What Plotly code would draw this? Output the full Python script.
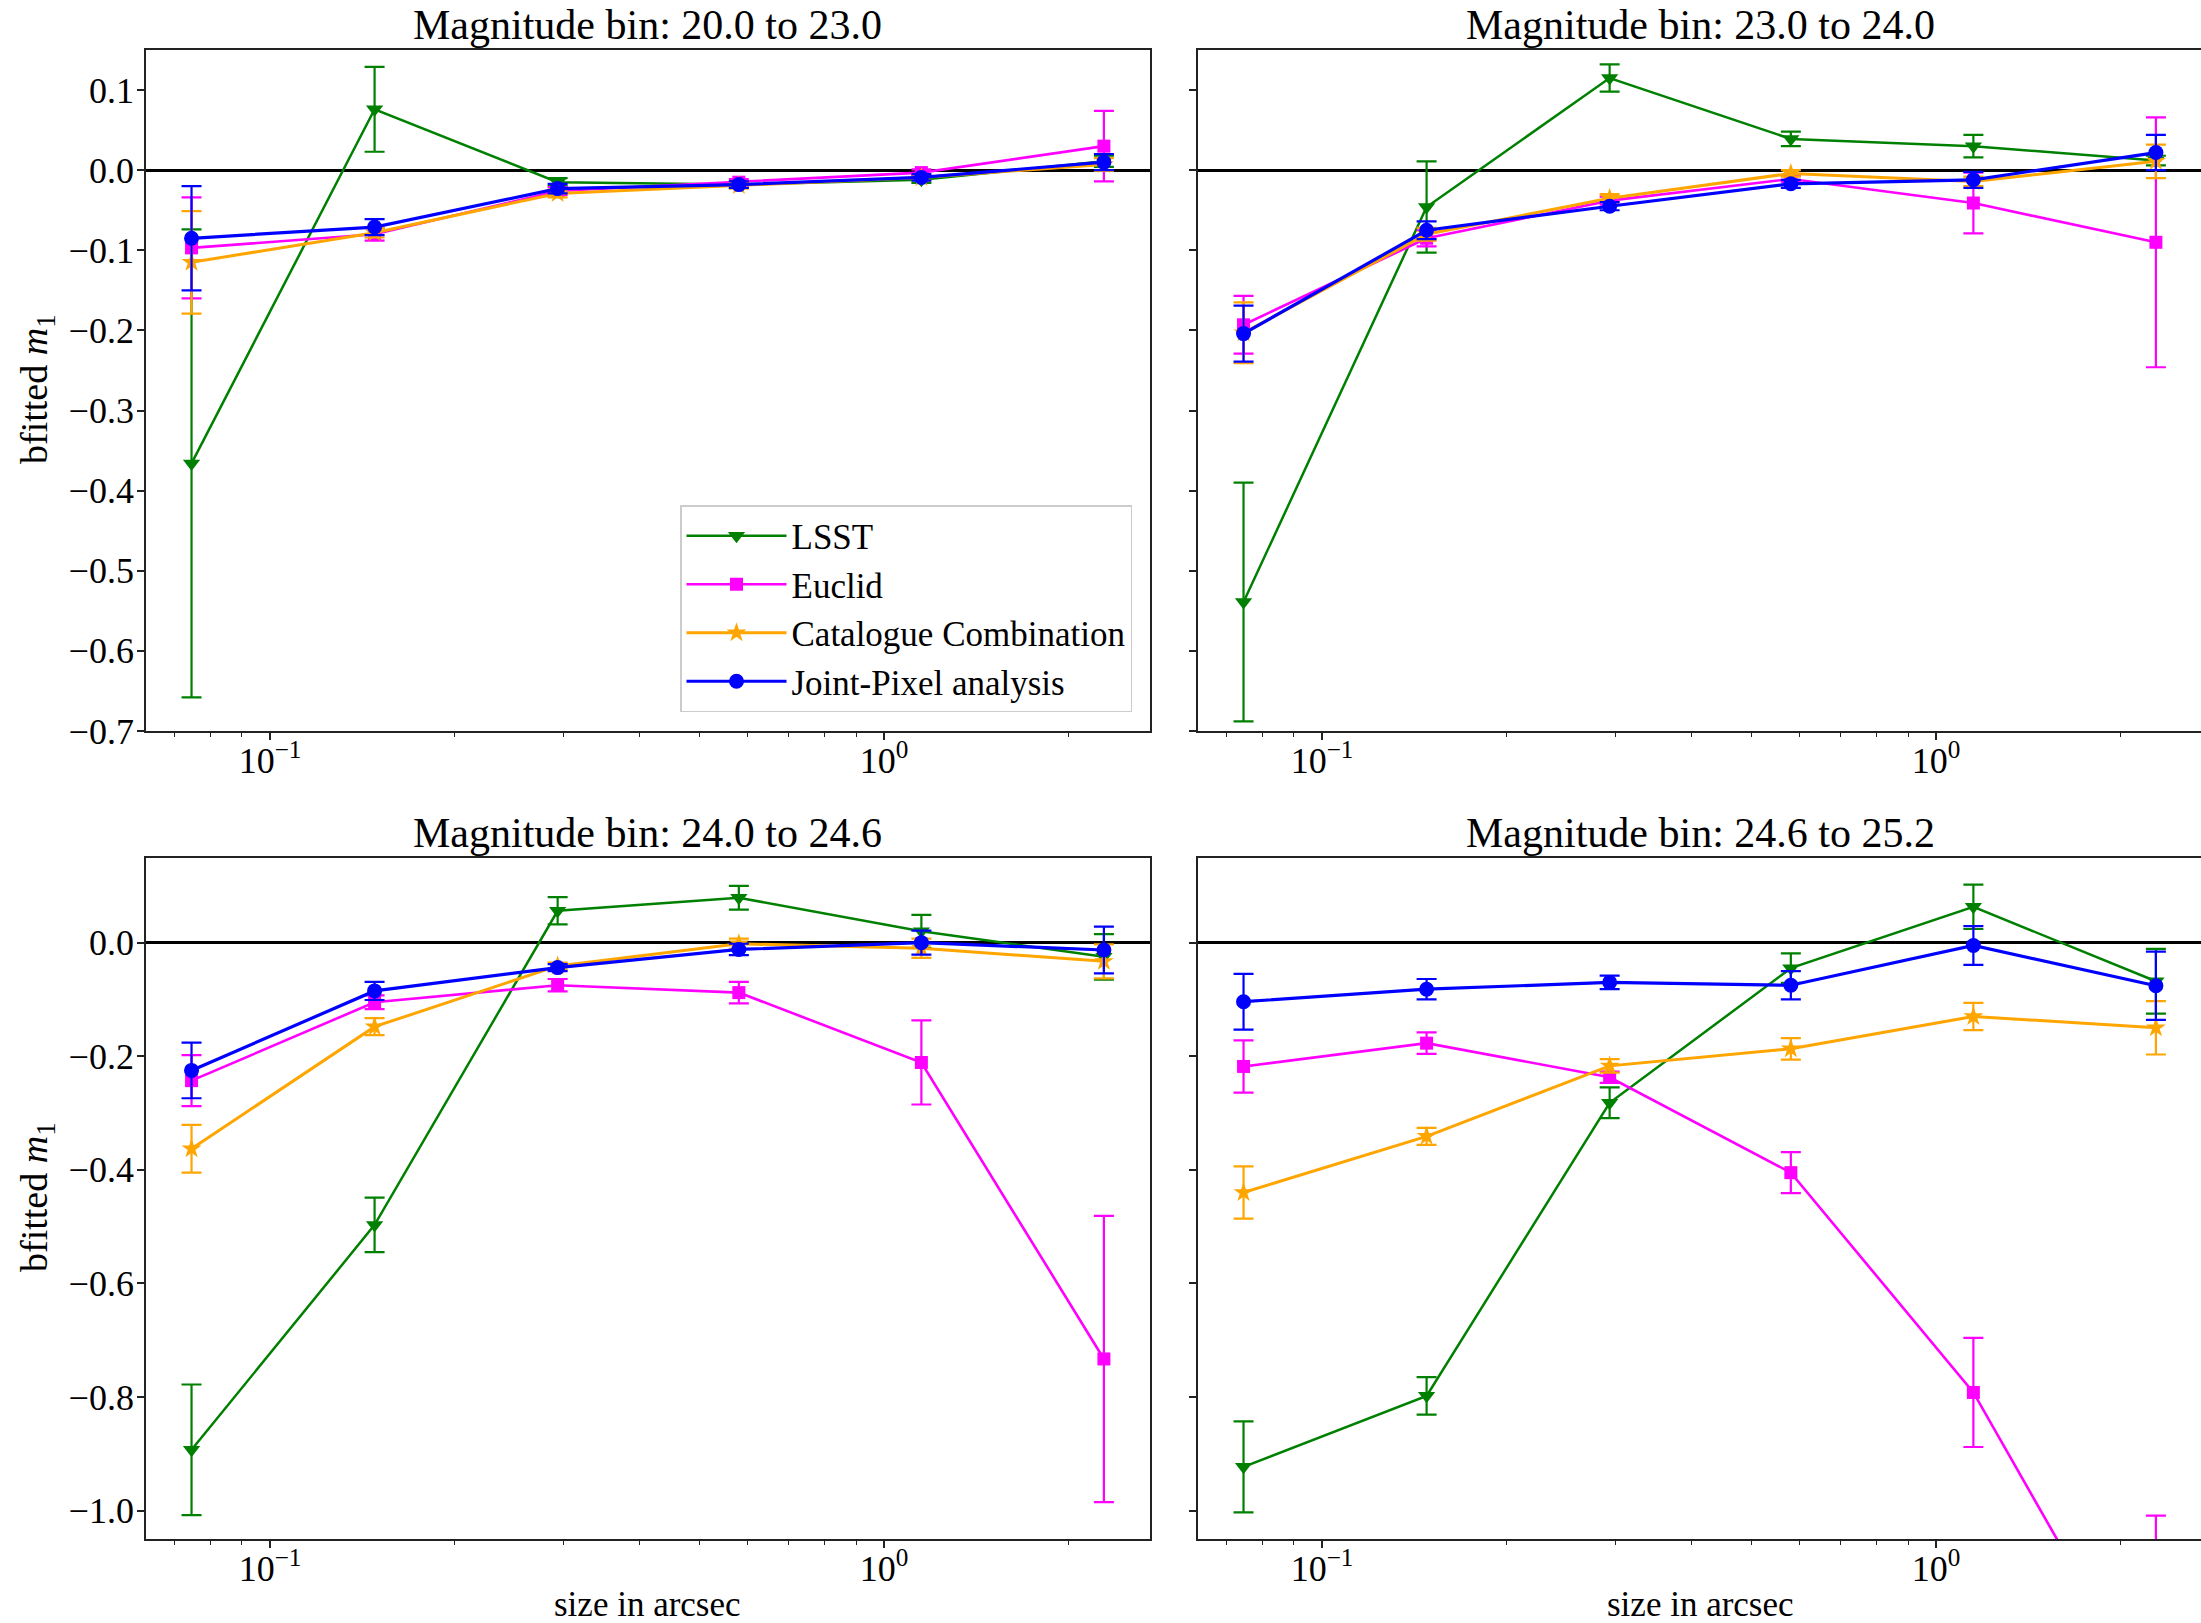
import plotly.graph_objects as go

# ---------------- data ----------------
x_sizes = [0.0745, 0.148, 0.294, 0.58, 1.15, 2.28]

bin_titles = ["Magnitude bin: 20.0 to 23.0", "Magnitude bin: 23.0 to 24.0",
              "Magnitude bin: 24.0 to 24.6", "Magnitude bin: 24.6 to 25.2"]
series_names = ["LSST", "Euclid", "Catalogue Combination", "Joint-Pixel analysis"]

# bin 20.0 - 23.0
lsst_1 = [-0.366, 0.076, -0.015, -0.018, -0.012, 0.011]
lsst_1_err = [0.292, 0.053, 0.005, 0.004, 0.004, 0.007]
euclid_1 = [-0.097, -0.080, -0.026, -0.015, -0.003, 0.030]
euclid_1_err = [0.063, 0.008, 0.005, 0.004, 0.004, 0.044]
cat_1 = [-0.115, -0.078, -0.029, -0.019, -0.009, 0.007]
cat_1_err = [0.064, 0.006, 0.005, 0.004, 0.004, 0.008]
joint_1 = [-0.085, -0.071, -0.023, -0.018, -0.009, 0.010]
joint_1_err = [0.065, 0.010, 0.006, 0.004, 0.004, 0.010]

# bin 23.0 - 24.0
lsst_2 = [-0.539, -0.046, 0.115, 0.039, 0.030, 0.012]
lsst_2_err = [0.149, 0.057, 0.017, 0.009, 0.014, 0.006]
euclid_2 = [-0.193, -0.085, -0.038, -0.011, -0.041, -0.090]
euclid_2_err = [0.036, 0.010, 0.005, 0.004, 0.038, 0.156]
cat_2 = [-0.203, -0.080, -0.035, -0.004, -0.014, 0.011]
cat_2_err = [0.038, 0.008, 0.005, 0.004, 0.006, 0.021]
joint_2 = [-0.204, -0.075, -0.045, -0.017, -0.012, 0.022]
joint_2_err = [0.035, 0.011, 0.005, 0.005, 0.010, 0.022]

# bin 24.0 - 24.6
lsst_3 = [-0.893, -0.497, 0.056, 0.079, 0.020, -0.025]
lsst_3_err = [0.115, 0.048, 0.024, 0.021, 0.029, 0.040]
euclid_3 = [-0.243, -0.105, -0.075, -0.088, -0.211, -0.733]
euclid_3_err = [0.045, 0.012, 0.011, 0.019, 0.074, 0.252]
cat_3 = [-0.363, -0.148, -0.041, -0.002, -0.010, -0.033]
cat_3_err = [0.042, 0.015, 0.006, 0.009, 0.017, 0.030]
joint_3 = [-0.225, -0.085, -0.044, -0.012, 0.000, -0.013]
joint_3_err = [0.049, 0.016, 0.006, 0.010, 0.021, 0.041]

# bin 24.6 - 25.2
lsst_4 = [-0.923, -0.798, -0.282, -0.045, 0.063, -0.068]
lsst_4_err = [0.080, 0.033, 0.027, 0.026, 0.039, 0.057]
euclid_4 = [-0.218, -0.177, -0.237, -0.405, -0.792, -1.356]
euclid_4_err = [0.046, 0.019, 0.010, 0.036, 0.096, 0.347]
cat_4 = [-0.440, -0.341, -0.217, -0.187, -0.130, -0.150]
cat_4_err = [0.046, 0.015, 0.012, 0.019, 0.024, 0.047]
joint_4 = [-0.104, -0.082, -0.070, -0.075, -0.005, -0.076]
joint_4_err = [0.049, 0.018, 0.012, 0.025, 0.034, 0.060]

top_yticks = [0.1, 0.0, -0.1, -0.2, -0.3, -0.4, -0.5, -0.6, -0.7]
bottom_yticks = [0.0, -0.2, -0.4, -0.6, -0.8, -1.0]
x_major = [0.1, 1.0]
x_major_text = ["10<sup>−1</sup>", "10<sup>0</sup>"]
x_minor = [0.07, 0.08, 0.09, 0.2, 0.3, 0.4, 0.5, 0.6, 0.7, 0.8, 0.9, 2.0]

# ---------------- styling ----------------
W, H = 2201, 1623
HEFF = 1602.0   # effective vertical extent of the paper as photographed
FONT = "Liberation Serif"
AX = "#222222"
colors = ["#008000", "#FF00FF", "#FFA500", "#0000FF"]
symbols = ["triangle-down", "square", "star", "circle"]
msizes = [15, 13, 15, 15]
lwidths = [2.5, 2.6, 3.0, 3.2]

panels = [
    [(lsst_1, lsst_1_err), (euclid_1, euclid_1_err), (cat_1, cat_1_err), (joint_1, joint_1_err)],
    [(lsst_2, lsst_2_err), (euclid_2, euclid_2_err), (cat_2, cat_2_err), (joint_2, joint_2_err)],
    [(lsst_3, lsst_3_err), (euclid_3, euclid_3_err), (cat_3, cat_3_err), (joint_3, joint_3_err)],
    [(lsst_4, lsst_4_err), (euclid_4, euclid_4_err), (cat_4, cat_4_err), (joint_4, joint_4_err)],
]

# pixel geometry of the panels
left_px = (146, 1150)
right_px = (1198, 2201)
top_px = (50, 731)
bot_px = (858, 1539)
x_lo, x_hi = -1.202, 0.433
decade_px = (left_px[1] - left_px[0]) / (x_hi - x_lo)
x_hi_right = x_lo + (right_px[1] - right_px[0]) / decade_px


def xd(px):
    return [px[0] / W, px[1] / W]


def yf(py):
    return 1 - py / HEFF


def yd(px):
    return [yf(px[1]), yf(px[0])]


fig = go.Figure()
axis_names = [("x", "y"), ("x2", "y2"), ("x3", "y3"), ("x4", "y4")]
for p, series in enumerate(panels):
    xa, ya = axis_names[p]
    for s, (vals, errs) in enumerate(series):
        fig.add_trace(go.Scatter(
            x=x_sizes, y=vals, xaxis=xa, yaxis=ya,
            mode="lines+markers", name=series_names[s],
            showlegend=(p == 0),
            line=dict(color=colors[s], width=lwidths[s]),
            marker=dict(symbol=symbols[s], size=msizes[s], color=colors[s]),
            error_y=dict(type="data", array=errs, visible=True,
                         color=colors[s], thickness=2.2, width=10),
        ))

tickfont = dict(family=FONT, size=36, color="black")


def make_x(domain, rng, anchor):
    return dict(type="log", domain=domain, range=rng, anchor=anchor,
                tickmode="array", tickvals=x_major, ticktext=x_major_text,
                ticks="outside", ticklen=7, tickwidth=1.6, tickcolor=AX,
                showline=True, linecolor=AX, linewidth=1.8, mirror=True,
                showgrid=False, zeroline=False, tickfont=tickfont,
                ticklabelstandoff=-10,
                minor=dict(tickmode="array", tickvals=x_minor, ticks="outside",
                           ticklen=4, tickwidth=1.2, tickcolor=AX, showgrid=False))


def make_y(domain, rng, anchor, ticks, labels, mirror):
    return dict(domain=domain, range=rng, anchor=anchor,
                tickmode="array", tickvals=ticks,
                ticktext=[f"{t:.1f}".replace("-", "−") for t in ticks],
                showticklabels=labels,
                ticks="outside", ticklen=7, tickwidth=1.6, tickcolor=AX,
                showline=True, linecolor=AX, linewidth=1.8, mirror=mirror,
                showgrid=False, zeroline=True, zerolinecolor="black",
                zerolinewidth=3, tickfont=tickfont, ticklabelstandoff=-4)


top_range = [-0.7, 0.15]
bot_range = [-1.05, 0.149]

fig.update_layout(
    width=W, height=H, autosize=False,
    margin=dict(l=0, r=0, t=0, b=0),
    paper_bgcolor="white", plot_bgcolor="white",
    font=dict(family=FONT, color="black"),
    xaxis=make_x(xd(left_px), [x_lo, x_hi], "y"),
    yaxis=make_y(yd(top_px), top_range, "x", top_yticks, True, True),
    xaxis2=make_x(xd(right_px), [x_lo, x_hi_right], "y2"),
    yaxis2=make_y(yd(top_px), top_range, "x2", top_yticks, False, False),
    xaxis3=make_x(xd(left_px), [x_lo, x_hi], "y3"),
    yaxis3=make_y(yd(bot_px), bot_range, "x3", bottom_yticks, True, True),
    xaxis4=make_x(xd(right_px), [x_lo, x_hi_right], "y4"),
    yaxis4=make_y(yd(bot_px), bot_range, "x4", bottom_yticks, False, False),
    legend=dict(x=1132 / W, y=yf(712), xanchor="right", yanchor="bottom",
                bgcolor="rgba(255,255,255,0.8)", bordercolor="#cccccc",
                borderwidth=1.5, font=dict(family=FONT, size=35, color="black"),
                tracegroupgap=4, itemwidth=100),
)

annotations = []
centers_x = [648 / W, 1700 / W, 648 / W, 1700 / W]
title_y = [yf(25), yf(25), yf(833), yf(833)]
for i, t in enumerate(bin_titles):
    annotations.append(dict(text=t, x=centers_x[i], y=title_y[i], xref="paper",
                            yref="paper", xanchor="center", yanchor="middle",
                            showarrow=False, font=dict(family=FONT, size=42)))
for yc in [390, 1198]:
    annotations.append(dict(text="bfitted <i>m</i><sub>1</sub>", x=37 / W, y=yf(yc),
                            xref="paper", yref="paper", xanchor="center",
                            yanchor="middle", textangle=-90, showarrow=False,
                            font=dict(family=FONT, size=38)))
for xc in [648, 1700]:
    annotations.append(dict(text="size in arcsec", x=xc / W, y=yf(1605),
                            xref="paper", yref="paper", xanchor="center",
                            yanchor="middle", showarrow=False,
                            font=dict(family=FONT, size=35)))
fig.update_layout(annotations=annotations)

fig.write_html("out.html")
